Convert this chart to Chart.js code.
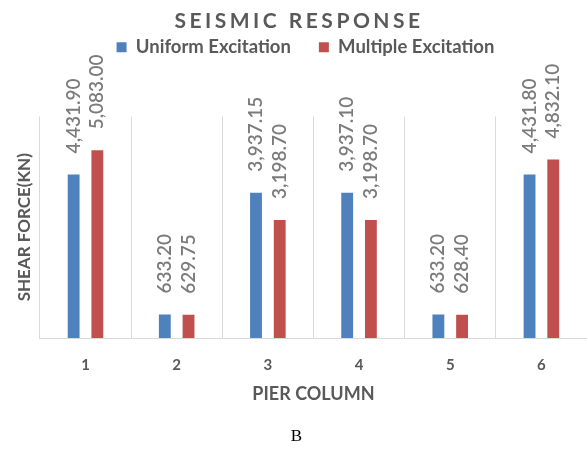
<!DOCTYPE html>
<html>
<head>
<meta charset="utf-8">
<script src="https://cdn.jsdelivr.net/npm/chart.js@4.4.0/dist/chart.umd.min.js"></script>
<style>
  html, body { margin: 0; padding: 0; background: #fff; }
  #wrap { width: 587px; height: 452px; }
</style>
</head>
<body>
<div id="wrap"><canvas id="myChart" width="587" height="452"></canvas></div>
<script>
    const columns = ["1", "2", "3", "4", "5", "6"];
    const uniform = [4431.90, 633.20, 3937.15, 3937.10, 633.20, 4431.80];
    const multiple = [5083.00, 629.75, 3198.70, 3198.70, 628.40, 4832.10];
    const chartTitle = "SEISMIC RESPONSE";
    const grey = "#595959";

    // writes the value above each bar, turned upright like in excel
    const barLabels = {
        id: "barLabels",
        afterDatasetsDraw(chart) {
            const ctx = chart.ctx;
            ctx.save();
            ctx.font = "600 19px Lato";
            ctx.fillStyle = "#7b7b7b";
            ctx.textAlign = "left";
            ctx.textBaseline = "middle";
            chart.data.datasets.forEach((ds, i) => {
                chart.getDatasetMeta(i).data.forEach((bar, j) => {
                    let txt = ds.data[j].toLocaleString("en-US", { minimumFractionDigits: 2, maximumFractionDigits: 2 });
                    ctx.save();
                    ctx.translate(bar.x, bar.y - 21);
                    ctx.rotate(-Math.PI / 2);
                    ctx.fillText(txt, 0, 0);
                    ctx.restore();
                });
            });
            ctx.restore();
        }
    };

    // spaced out title, chart.js title has no letter spacing
    const spacedTitle = {
        id: "spacedTitle",
        afterDraw(chart) {
            const ctx = chart.ctx;
            ctx.save();
            ctx.font = "bold 21px Lato";
            ctx.letterSpacing = "3.5px";
            ctx.fillStyle = grey;
            ctx.textAlign = "center";
            ctx.textBaseline = "middle";
            ctx.fillText(chartTitle, 299, 21);
            ctx.restore();
        }
    };

    // room between the legend and the plot for the labels, legend a bit to the right
    const legendGap = {
        id: "legendGap",
        beforeInit(chart) {
            const fit = chart.legend.fit;
            const draw = chart.legend.draw;
            chart.legend.fit = function () {
                fit.bind(chart.legend)();
                this.height += 50;
            };
            chart.legend.draw = function () {
                chart.ctx.save();
                chart.ctx.translate(9, 0);
                draw.bind(chart.legend)();
                chart.ctx.restore();
            };
        }
    };

    let ctx = document.getElementById("myChart").getContext("2d");
    let chart = new Chart(ctx, {
        type: "bar",
        data: {
            labels: columns,
            datasets: [{
                label: "Uniform Excitation",
                backgroundColor: "#4f81bd",
                data: uniform
            }, {
                label: "Multiple Excitation",
                backgroundColor: "#c0504d",
                data: multiple
            }]
        },
        options: {
            responsive: false,
            animation: false,
            categoryPercentage: 0.52,
            barPercentage: 0.5,
            layout: { padding: { left: 6, right: 0, top: 10, bottom: 0 } },
            plugins: {
                title: { display: false },
                subtitle: {
                    display: true,
                    position: "bottom",
                    text: "B",
                    color: "#000",
                    font: { family: "'Liberation Serif'", size: 17, weight: "normal" },
                    padding: { top: 21.5, bottom: 5 }
                },
                legend: {
                    labels: {
                        color: grey,
                        boxWidth: 10,
                        boxHeight: 10,
                        padding: 28,
                        font: { family: "Lato", size: 18.5, weight: "bold" }
                    }
                },
                tooltip: { enabled: false }
            },
            scales: {
                x: {
                    grid: { color: "#d9d9d9", offset: true, drawTicks: false },
                    border: { color: "#d9d9d9" },
                    ticks: { color: grey, padding: 18, font: { family: "Lato", size: 15, weight: "bold" } },
                    title: {
                        display: true,
                        text: "PIER COLUMN",
                        color: grey,
                        font: { family: "Lato", size: 18, weight: "bold" },
                        padding: { top: -8.5, bottom: 0 }
                    }
                },
                y: {
                    min: 0,
                    max: 6000,
                    ticks: { display: false },
                    grid: { display: false },
                    border: { display: false },
                    title: {
                        display: true,
                        text: "SHEAR FORCE(KN)",
                        color: grey,
                        font: { family: "Lato", size: 17, weight: "bold" },
                        padding: { top: 8, bottom: -2.5 }
                    }
                }
            }
        },
        plugins: [barLabels, spacedTitle, legendGap]
    });
</script>
</body>
</html>
